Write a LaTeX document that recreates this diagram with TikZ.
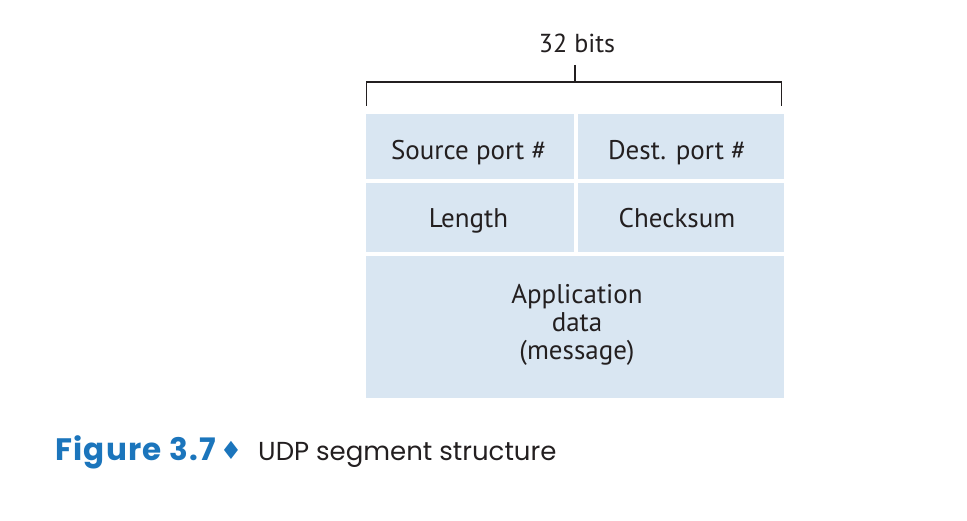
\documentclass[tikz,border=0pt]{standalone}
\usepackage{fontspec}
\setmainfont{PT Sans}
\newfontfamily\capfont{Poppins}
\newfontfamily\figfont[LetterSpace=4]{Poppins}
\newfontfamily\symfont{DejaVu Sans}
\definecolor{cellblue}{RGB}{217,230,242}
\definecolor{figblue}{RGB}{27,117,188}
\definecolor{inkc}{RGB}{35,31,32}
\begin{document}
\begin{tikzpicture}[x=1pt,y=-1pt,
  cell/.style={fill=cellblue,draw=none,inner sep=0pt},
  celltext/.style={anchor=base,inner sep=0pt,text=inkc,font=\fontsize{27}{28.3}\selectfont,align=center},
  brk/.style={draw=inkc,line width=1.1pt}]
\useasboundingbox (0,0) rectangle (967,521);
\node[cell,minimum width=208pt,minimum height=65pt] (src) at (470,146.5) {};
\node[cell,minimum width=206pt,minimum height=65pt] (dst) at (681,146.5) {};
\node[cell,minimum width=208pt,minimum height=69pt] (len) at (470,217.5) {};
\node[cell,minimum width=206pt,minimum height=69pt] (chk) at (681,217.5) {};
\node[cell,minimum width=418pt,minimum height=142pt] (app) at (575,327) {};
\node[celltext] (srct) at (468.7,160) {Source port \#};
\node[celltext] (dstt) at (677,160) {Dest. port \#};
\node[celltext] (lent) at (468.5,228) {Length};
\node[celltext] (chkt) at (677,228) {Checksum};
\node[celltext] (appt) at (577,360) {Application\\data\\(message)};
\node[text=inkc,font=\fontsize{26}{28}\selectfont,anchor=base,inner sep=0pt] (bits) at (577,53) {32 bits};
\coordinate (bl) at (366.5,106);
\coordinate (br) at (781.5,106);
\coordinate (tm) at (575,82);
\coordinate (tt) at (575,65);
\draw[brk] (bl) |- (br |- tm) -- (br);
\draw[brk] (tt) -- (tm);
\node[anchor=base west,inner sep=0pt,text=figblue,font=\figfont\bfseries\fontsize{31}{34}\selectfont] (fig) at (55,460) {Figure 3.7};
\node[anchor=base,inner sep=0pt,text=figblue,font=\symfont\fontsize{25}{28}\selectfont] (dia) at (231,459) {♦};
\node[anchor=base west,inner sep=0pt,text=inkc,font=\capfont\fontsize{26}{30}\selectfont] (cap) at (258,460) {UDP segment structure};
\end{tikzpicture}
\end{document}
